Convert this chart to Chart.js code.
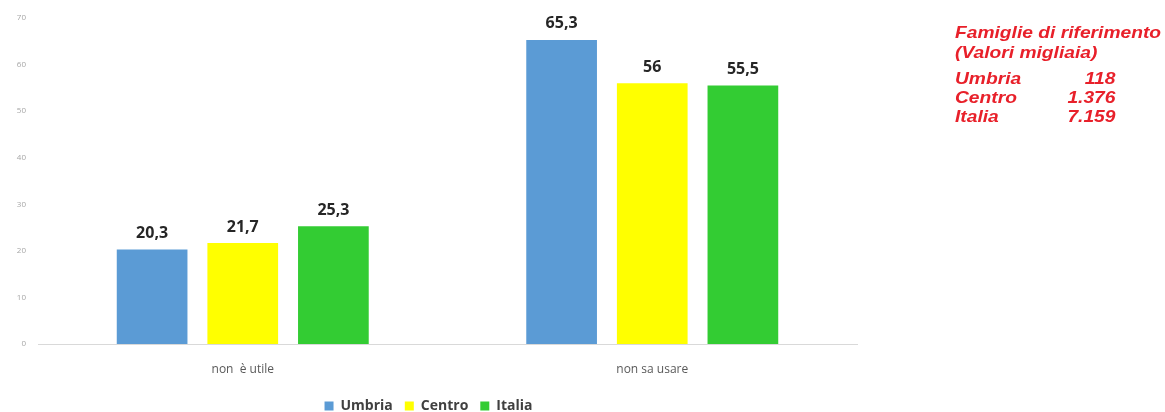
<!DOCTYPE html>
<html>
<head>
<meta charset="utf-8">
<script src="https://cdn.jsdelivr.net/npm/chart.js@4"></script>
<style>
  body { margin: 0; background: #fff; }
  #wrap { position: relative; width: 1165px; height: 412px; }
  #note {
    position: absolute; left: 955px; top: 23px;
    font-family: "Liberation Sans", Arial, sans-serif;
    font-weight: bold; font-style: italic; font-size: 17px;
    color: #e8202a; line-height: 20px;
    transform: scaleX(1.13); transform-origin: left top;
  }
  #note table { border-collapse: collapse; margin-top: 6px; width: 142px; }
  #note td { padding: 0; line-height: 19px; }
  #note td.num { text-align: right; }
</style>
</head>
<body>
<div id="wrap">
  <canvas id="myChart" width="1165" height="412"></canvas>
  <div id="note">
    <div>Famiglie di riferimento</div>
    <div>(Valori migliaia)</div>
    <table>
      <tr><td>Umbria</td><td class="num">118</td></tr>
      <tr><td>Centro</td><td class="num">1.376</td></tr>
      <tr><td>Italia</td><td class="num">7.159</td></tr>
    </table>
  </div>
</div>
<script>
const categories = ["non  è utile", "non sa usare"];
const umbria = [20.3, 65.3];
const centro = [21.7, 56];
const italia = [25.3, 55.5];
const yTicks = [0, 10, 20, 30, 40, 50, 60, 70];

// value labels above each bar, with a decimal comma
const barLabels = {
  id: "barLabels",
  afterDatasetsDraw(chart) {
    const ctx = chart.ctx;
    ctx.save();
    ctx.font = "bold 16px 'Open Sans', sans-serif";
    ctx.fillStyle = "#262626";
    ctx.textAlign = "center";
    ctx.textBaseline = "bottom";
    chart.data.datasets.forEach((ds, i) => {
      chart.getDatasetMeta(i).data.forEach((bar, j) => {
        let text = String(ds.data[j]).replace(".", ",");
        ctx.fillText(text, bar.x, bar.y - 8);
      });
    });
    ctx.restore();
  },
};

const ctx = document.getElementById("myChart").getContext("2d");

const myChart = new Chart(ctx, {
  type: "bar",
  data: {
    labels: categories,
    datasets: [
      { label: "Umbria", data: umbria, backgroundColor: "#5b9bd5" },
      { label: "Centro", data: centro, backgroundColor: "#ffff00" },
      { label: "Italia", data: italia, backgroundColor: "#33cc33" },
    ],
  },
  options: {
    responsive: false,
    animation: false,
    categoryPercentage: 0.664,
    barPercentage: 0.78,
    layout: {
      padding: { top: 18, right: 308, left: 0, bottom: -11 },
    },
    plugins: {
      tooltip: { enabled: false },
      legend: {
        position: "bottom",
        labels: {
          boxWidth: 9,
          boxHeight: 9,
          padding: 12,
          color: "#404040",
          font: { family: "'Open Sans', sans-serif", size: 14, weight: "bold" },
        },
      },
    },
    scales: {
      x: {
        grid: { display: false, drawTicks: false },
        border: { display: true, color: "#d9d9d9", width: 1 },
        ticks: {
          padding: 18,
          color: "#595959",
          font: { family: "'Open Sans', sans-serif", size: 12 },
        },
        afterFit(scale) {
          scale.height = 43;
        },
      },
      y: {
        min: 0,
        max: 70,
        afterBuildTicks(scale) {
          scale.ticks = yTicks.map((v) => ({ value: v }));
        },
        grid: { display: false, drawTicks: false },
        border: { display: false },
        ticks: {
          padding: 12,
          color: "#a6a6a6",
          font: { family: "'Open Sans', sans-serif", size: 8 },
        },
        afterFit(scale) {
          scale.width = 38;
        },
      },
    },
  },
  plugins: [barLabels],
});
</script>
</body>
</html>
